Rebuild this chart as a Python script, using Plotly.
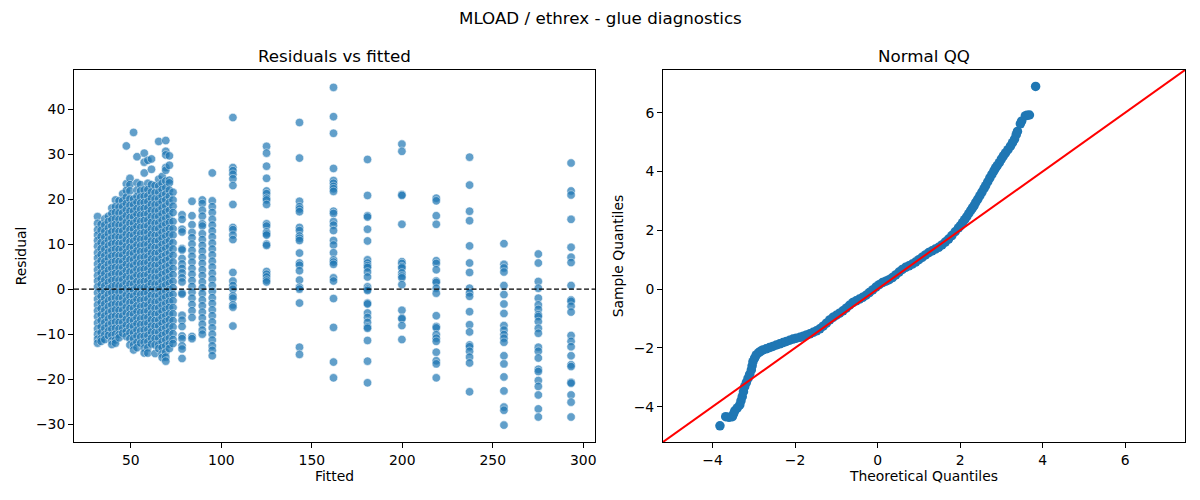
import plotly.graph_objects as go
from plotly.subplots import make_subplots

# residuals vs fitted - one list of residuals per fitted value column
fitted_cols = [31.6, 33.6, 35.6, 37.6, 39.5, 41.5, 43.5, 45.5, 47.5, 49.5, 51.5,
               53.4, 55.4, 57.4, 59.4, 61.4, 63.4, 65.4, 67.3, 69.3, 71.3, 73.3,
               78.3, 83.8, 89.5, 95.0, 106.4, 125.0, 143.2, 162.0, 180.8,
               199.8, 218.8, 237.2, 256.2, 275.2, 293.3]

residual_cols = [
    [16.1, 14.6, 13.2, 12.0, 10.8, 9.5, 8.1, 6.9, 5.6, 4.3, 3.0, 1.8, 0.5, -0.8, -2.2, -3.5, -4.8, -6.1, -7.5, -8.8, -10.0, -11.1, -12.0],
    [14.4, 13.1, 11.7, 10.3, 9.0, 7.7, 6.3, 5.0, 3.6, 2.3, 1.0, -0.3, -1.6, -3.0, -4.3, -5.7, -7.0, -8.4, -9.7, -11.0, -11.6],
    [15.6, 14.2, 12.8, 11.5, 10.1, 8.8, 7.4, 6.1, 4.7, 3.4, 2.0, 0.7, -0.6, -2.0, -3.3, -4.7, -6.0, -7.4, -8.7, -10.1, -11.2],
    [16.2, 15.0, 13.6, 12.3, 10.9, 9.6, 8.2, 6.9, 5.5, 4.2, 2.8, 1.5, 0.1, -1.2, -2.6, -3.9, -5.3, -6.6, -8.0, -9.3, -10.3],
    [18.0, 16.8, 15.4, 14.0, 12.7, 11.3, 10.0, 8.6, 7.3, 5.9, 4.6, 3.2, 1.9, 0.5, -0.8, -2.2, -3.5, -4.9, -6.2, -7.6, -8.9, -10.3, -11.5, -12.3],
    [19.8, 18.3, 17.0, 15.6, 14.3, 12.9, 11.6, 10.2, 8.9, 7.5, 6.2, 4.8, 3.5, 2.1, 0.8, -0.6, -1.9, -3.3, -4.6, -6.0, -7.3, -8.7, -10.0, -11.3, -12.0],
    [19.6, 18.2, 16.9, 15.5, 14.2, 12.8, 11.5, 10.1, 8.8, 7.4, 6.1, 4.7, 3.4, 2.0, 0.7, -0.7, -2.0, -3.4, -4.7, -6.1, -7.4, -8.8, -10.1, -10.8],
    [21.2, 19.6, 18.3, 16.9, 15.6, 14.2, 12.9, 11.5, 10.2, 8.8, 7.5, 6.1, 4.8, 3.4, 2.1, 0.7, -0.6, -2.0, -3.3, -4.7, -6.0, -7.4, -8.7, -9.8],
    [31.8, 23.4, 21.9, 20.4, 19.0, 17.6, 16.3, 14.9, 13.6, 12.2, 10.9, 9.5, 8.2, 6.8, 5.5, 4.1, 2.8, 1.4, 0.1, -1.3, -2.6, -4.0, -5.3, -6.7, -8.0, -9.4, -10.5],
    [24.6, 23.2, 21.8, 20.0, 18.6, 17.3, 15.9, 14.6, 13.2, 11.9, 10.5, 9.2, 7.8, 6.5, 5.1, 3.8, 2.4, 1.1, -0.3, -1.6, -3.0, -4.3, -5.7, -7.0, -8.4, -9.7, -11.0, -12.4],
    [34.8, 20.0, 18.7, 17.3, 16.0, 14.6, 13.3, 11.9, 10.6, 9.2, 7.9, 6.5, 5.2, 3.8, 2.5, 1.1, -0.2, -1.6, -2.9, -4.3, -5.6, -7.0, -8.3, -9.7, -11.0, -12.4, -13.5],
    [29.4, 23.6, 22.0, 20.6, 19.3, 17.9, 16.6, 15.2, 13.9, 12.5, 11.2, 9.8, 8.5, 7.1, 5.8, 4.4, 3.1, 1.7, 0.4, -1.0, -2.3, -3.7, -5.0, -6.4, -7.7, -9.1, -10.4, -11.8, -13.0],
    [23.2, 21.8, 20.4, 19.1, 17.7, 16.4, 15.0, 13.7, 12.3, 11.0, 9.6, 8.3, 6.9, 5.6, 4.2, 2.9, 1.5, 0.2, -1.2, -2.5, -3.9, -5.2, -6.6, -7.9, -9.3, -10.6, -12.0],
    [30.2, 28.2, 25.8, 22.0, 20.6, 19.2, 17.9, 16.5, 15.2, 13.8, 12.5, 11.1, 9.8, 8.4, 7.1, 5.7, 4.4, 3.0, 1.7, 0.3, -1.0, -2.4, -3.7, -5.1, -6.4, -7.8, -9.1, -10.5, -11.8, -13.1, -14.2],
    [28.6, 23.5, 22.1, 20.7, 19.4, 18.0, 16.7, 15.3, 14.0, 12.6, 11.3, 9.9, 8.6, 7.2, 5.9, 4.5, 3.2, 1.8, 0.5, -0.9, -2.2, -3.6, -4.9, -6.3, -7.6, -9.0, -10.3, -11.7, -13.0, -14.2],
    [28.9, 26.6, 23.2, 21.6, 20.2, 18.8, 17.5, 16.1, 14.8, 13.4, 12.1, 10.7, 9.4, 8.0, 6.7, 5.3, 4.0, 2.6, 1.3, -0.1, -1.4, -2.8, -4.1, -5.5, -6.8, -8.2, -9.5, -10.9, -12.2],
    [23.0, 21.4, 20.0, 18.7, 17.3, 16.0, 14.6, 13.3, 11.9, 10.6, 9.2, 7.9, 6.5, 5.2, 3.8, 2.5, 1.1, -0.2, -1.6, -2.9, -4.3, -5.6, -7.0, -8.3, -9.7, -11.0, -12.4, -14.3],
    [32.8, 24.4, 22.9, 21.5, 20.1, 18.8, 17.4, 16.1, 14.7, 13.4, 12.0, 10.7, 9.3, 8.0, 6.6, 5.3, 3.9, 2.6, 1.2, -0.1, -1.5, -2.8, -4.2, -5.5, -6.9, -8.2, -9.6, -10.9, -12.3, -13.2],
    [25.0, 23.5, 22.1, 20.7, 19.4, 18.0, 16.7, 15.3, 14.0, 12.6, 11.3, 9.9, 8.6, 7.2, 5.9, 4.5, 3.2, 1.8, 0.5, -0.9, -2.2, -3.6, -4.9, -6.3, -7.6, -9.0, -10.3, -11.7, -13.0, -14.4, -15.2],
    [33.0, 30.6, 29.8, 27.0, 26.4, 24.0, 22.5, 21.1, 19.8, 18.4, 17.1, 15.7, 14.4, 13.0, 11.7, 10.3, 9.0, 7.6, 6.3, 4.9, 3.6, 2.2, 0.9, -0.5, -1.8, -3.2, -4.5, -5.9, -7.2, -8.6, -9.9, -11.3, -12.6, -14.0, -15.1, -16.0],
    [29.6, 27.5, 24.2, 23.6, 22.0, 20.6, 19.2, 17.5, 16.1, 14.8, 13.4, 12.1, 10.7, 9.4, 8.0, 6.7, 5.3, 4.0, 2.6, 1.3, -0.1, -1.4, -2.8, -4.1, -5.5, -6.8, -8.2, -9.5, -10.9, -12.2, -13.2],
    [21.5, 19.8, 18.4, 17.0, 15.0, 13.4, 12.0, 10.3, 8.9, 7.5, 6.0, 4.6, 3.2, 1.7, 0.3, -1.2, -2.6, -4.1, -5.5, -7.0, -8.4, -9.9, -11.2, -12.1],
    [16.5, 15.5, 13.3, 12.7, 9.0, 8.7, 6.8, 5.6, 4.6, 3.6, 2.5, 1.6, -0.8, -1.1, -5.8, -6.9, -8.3, -10.4, -11.0, -12.6, -13.3, -15.4],
    [19.5, 16.3, 14.3, 12.6, 11.4, 10.0, 8.6, 7.3, 6.0, 4.6, 3.3, 1.9, 0.6, -0.7, -2.0, -3.4, -4.8, -6.3, -10.5, -11.0],
    [19.8, 19.0, 17.5, 16.2, 14.5, 14.0, 12.3, 11.0, 9.7, 8.4, 7.0, 5.7, 4.3, 3.0, 1.6, 0.3, -1.0, -2.4, -3.7, -5.1, -6.4, -7.8, -9.1, -10.0],
    [25.8, 19.6, 18.3, 17.0, 15.5, 14.2, 12.9, 11.6, 10.2, 8.9, 7.6, 6.2, 4.9, 3.5, 2.2, 0.8, -0.5, -1.9, -3.2, -4.6, -5.9, -7.3, -8.6, -10.0, -11.3, -12.6, -13.6, -14.8],
    [38.1, 27.0, 26.3, 25.5, 24.5, 23.0, 18.8, 13.7, 13.2, 12.0, 11.0, 3.7, 1.8, 0.8, 0.0, -1.5, -2.0, -3.5, -4.0, -8.2],
    [31.7, 30.2, 27.3, 24.6, 21.8, 21.2, 20.2, 19.8, 18.8, 14.5, 14.0, 12.7, 12.3, 12.0, 10.0, 9.7, 3.9, 3.3, 2.7, 2.0, 1.6],
    [37.0, 29.1, 19.5, 18.3, 17.8, 17.2, 13.7, 13.0, 11.8, 11.3, 10.8, 8.0, 5.8, 5.3, 4.1, 2.0, 0.4, 0.0, -3.1, -12.9, -14.5],
    [44.8, 38.3, 34.6, 26.8, 24.1, 23.5, 22.8, 22.3, 21.7, 17.3, 16.8, 15.0, 14.2, 13.0, 10.8, 9.8, 8.1, 6.5, 6.0, 5.5, 2.5, 1.8, -2.1, -8.5, -16.2, -19.7],
    [28.8, 20.8, 16.3, 16.0, 13.3, 10.7, 6.5, 5.8, 5.2, 4.8, 3.8, 2.7, 0.5, 0.0, -0.3, -3.1, -3.3, -5.3, -6.3, -7.4, -8.4, -8.7, -11.4, -16.0, -20.8],
    [32.2, 30.6, 21.0, 20.8, 14.4, 6.1, 5.7, 5.0, 4.7, 3.6, 2.9, 2.5, 1.0, -4.7, -6.4, -6.6, -8.1, -11.2],
    [20.2, 19.6, 16.3, 14.4, 6.3, 5.7, 4.3, 1.8, 1.5, 0.2, -0.9, -5.9, -8.3, -8.6, -10.1, -10.9, -11.6, -14.0, -15.9, -16.6, -19.7],
    [29.3, 23.1, 17.3, 15.2, 9.6, 5.8, 3.7, 0.2, -0.8, -1.6, -5.0, -7.9, -9.5, -12.4, -12.8, -13.8, -15.1, -16.4, -22.8],
    [10.1, 5.5, 4.7, 3.8, 0.8, -1.2, -3.3, -5.4, -8.1, -9.1, -10.1, -10.9, -11.8, -14.8, -16.6, -19.5, -22.6, -26.2, -26.9, -30.2],
    [7.8, 5.8, 1.7, 0.2, -2.0, -3.5, -4.5, -5.7, -6.1, -7.2, -8.7, -9.8, -12.9, -13.8, -15.3, -17.8, -18.3, -20.3, -21.6, -23.5, -26.6, -28.4],
    [28.0, 21.8, 20.9, 15.5, 9.3, 7.1, 5.9, 0.8, -2.4, -2.7, -3.8, -5.1, -10.3, -11.6, -12.8, -14.8, -16.8, -17.2, -20.7, -20.9, -23.5, -25.1, -28.4],
]

# normal QQ points
theo_q = [-3.82, -3.68, -3.6, -3.52, -3.49, -3.46, -3.4, -3.34, -3.31, -3.28, -3.25, -3.22,
          -3.18, -3.14, -3.1, -3.06, -3.04, -3.02, -2.98, -2.94, -2.88, -2.83, -2.78, -2.7,
          -2.62, -2.54, -2.45, -2.37, -2.29, -2.21, -2.13, -2.05, -1.97, -1.88, -1.8, -1.72,
          -1.64, -1.56, -1.48, -1.4, -1.32, -1.24, -1.16, -1.08, -1.0, -0.92, -0.84, -0.76,
          -0.68, -0.6, -0.52, -0.44, -0.36, -0.28, -0.2, -0.12, -0.04, 0.04, 0.12, 0.2,
          0.28, 0.36, 0.44, 0.52, 0.6, 0.68, 0.76, 0.84, 0.92, 1.0, 1.08, 1.16,
          1.24, 1.32, 1.4, 1.48, 1.56, 1.64, 1.72, 1.8, 1.88, 1.96, 2.01, 2.06,
          2.11, 2.16, 2.21, 2.26, 2.3, 2.34, 2.38, 2.43, 2.48, 2.53, 2.58, 2.62,
          2.67, 2.72, 2.77, 2.82, 2.86, 2.9, 2.95, 3.0, 3.05, 3.1, 3.16, 3.22,
          3.27, 3.32, 3.36, 3.39, 3.46, 3.49, 3.58, 3.62, 3.68, 3.83]
sample_q = [-4.65, -4.34, -4.36, -4.34, -4.24, -4.14, -4.04, -3.94, -3.8, -3.66, -3.49, -3.32,
            -3.18, -3.04, -2.9, -2.75, -2.61, -2.47, -2.35, -2.24, -2.16, -2.11, -2.07, -2.03,
            -1.99, -1.95, -1.9, -1.86, -1.82, -1.78, -1.74, -1.7, -1.67, -1.64, -1.6, -1.56,
            -1.52, -1.47, -1.42, -1.35, -1.26, -1.16, -1.05, -0.96, -0.89, -0.82, -0.74, -0.65,
            -0.55, -0.46, -0.4, -0.34, -0.28, -0.21, -0.12, -0.03, 0.07, 0.15, 0.22, 0.27,
            0.32, 0.39, 0.48, 0.58, 0.67, 0.74, 0.79, 0.85, 0.92, 1.0, 1.08, 1.16,
            1.24, 1.3, 1.36, 1.42, 1.5, 1.6, 1.7, 1.82, 1.95, 2.08, 2.16, 2.26,
            2.36, 2.46, 2.57, 2.68, 2.76, 2.84, 2.95, 3.06, 3.18, 3.3, 3.42, 3.52,
            3.65, 3.78, 3.9, 4.02, 4.12, 4.2, 4.3, 4.42, 4.53, 4.63, 4.74, 4.86,
            4.98, 5.1, 5.25, 5.36, 5.62, 5.71, 5.89, 5.91, 5.92, 6.89]

# 45 degree reference line ends (axis limits)
qq_line = [-5.2, 7.45]

fitted = []
residual = []
for fx, col in zip(fitted_cols, residual_cols):
    fitted += [fx] * len(col)
    residual += col

font = "DejaVu Sans"
blue = "#1f77b4"

fig = make_subplots(rows=1, cols=2)

fig.add_trace(go.Scatter(x=fitted, y=residual, mode="markers",
                         marker=dict(color=blue, size=8.5, opacity=0.7,
                                     line=dict(color="white", width=0.6)),
                         showlegend=False), row=1, col=1)
fig.add_hline(y=0, line=dict(color="black", width=1.2, dash="5px,2.5px"), row=1, col=1)

fig.add_trace(go.Scatter(x=theo_q, y=sample_q, mode="markers",
                         marker=dict(color=blue, size=9.5, line=dict(width=0)),
                         showlegend=False), row=1, col=2)
fig.add_trace(go.Scatter(x=qq_line, y=qq_line, mode="lines",
                         line=dict(color="red", width=2), showlegend=False), row=1, col=2)

axis_style = dict(showline=True, mirror=True, linecolor="black", linewidth=1,
                  ticks="outside", ticklen=5, tickwidth=1, tickcolor="black",
                  showgrid=False, zeroline=False, automargin=False,
                  tickfont=dict(family=font, size=13.9, color="black"),
                  title_font=dict(family=font, size=13.9, color="black"))

fig.update_xaxes(axis_style)
fig.update_yaxes(axis_style)

fig.update_layout(
    width=1200, height=500,
    margin=dict(l=0, r=0, t=0, b=0),
    paper_bgcolor="white", plot_bgcolor="white",
    font=dict(family=font, size=13.9, color="black"),
    xaxis=dict(domain=[0.0617, 0.4958], range=[18.6, 306.5], tickvals=[50, 100, 150, 200, 250, 300],
               title=dict(text="Fitted", standoff=4)),
    yaxis=dict(domain=[0.116, 0.86], range=[-33.95, 48.66], tickvals=[-30, -20, -10, 0, 10, 20, 30, 40],
               title=dict(text="Residual", standoff=6)),
    xaxis2=dict(domain=[0.5525, 0.9875], range=qq_line, tickvals=[-4, -2, 0, 2, 4, 6],
                title=dict(text="Theoretical Quantiles", standoff=4)),
    yaxis2=dict(domain=[0.116, 0.86], range=qq_line, tickvals=[-4, -2, 0, 2, 4, 6],
                title=dict(text="Sample Quantiles", standoff=6)),
    annotations=[
        dict(text="MLOAD / ethrex - glue diagnostics", x=0.5, y=1 - 18 / 500, xref="paper", yref="paper",
             xanchor="center", yanchor="middle", showarrow=False, font=dict(size=16.7)),
        dict(text="Residuals vs fitted", x=(0.0617 + 0.4958) / 2, y=1 - 56.5 / 500, xref="paper", yref="paper",
             xanchor="center", yanchor="middle", showarrow=False, font=dict(size=16.7)),
        dict(text="Normal QQ", x=(0.5525 + 0.9875) / 2, y=1 - 56.5 / 500, xref="paper", yref="paper",
             xanchor="center", yanchor="middle", showarrow=False, font=dict(size=16.7)),
    ],
)

# drop the browser's default 8px page margin so the figure sits at 0,0
fig.write_html("out.html", config={"displayModeBar": False},
               post_script="document.body.style.margin = '0';")
